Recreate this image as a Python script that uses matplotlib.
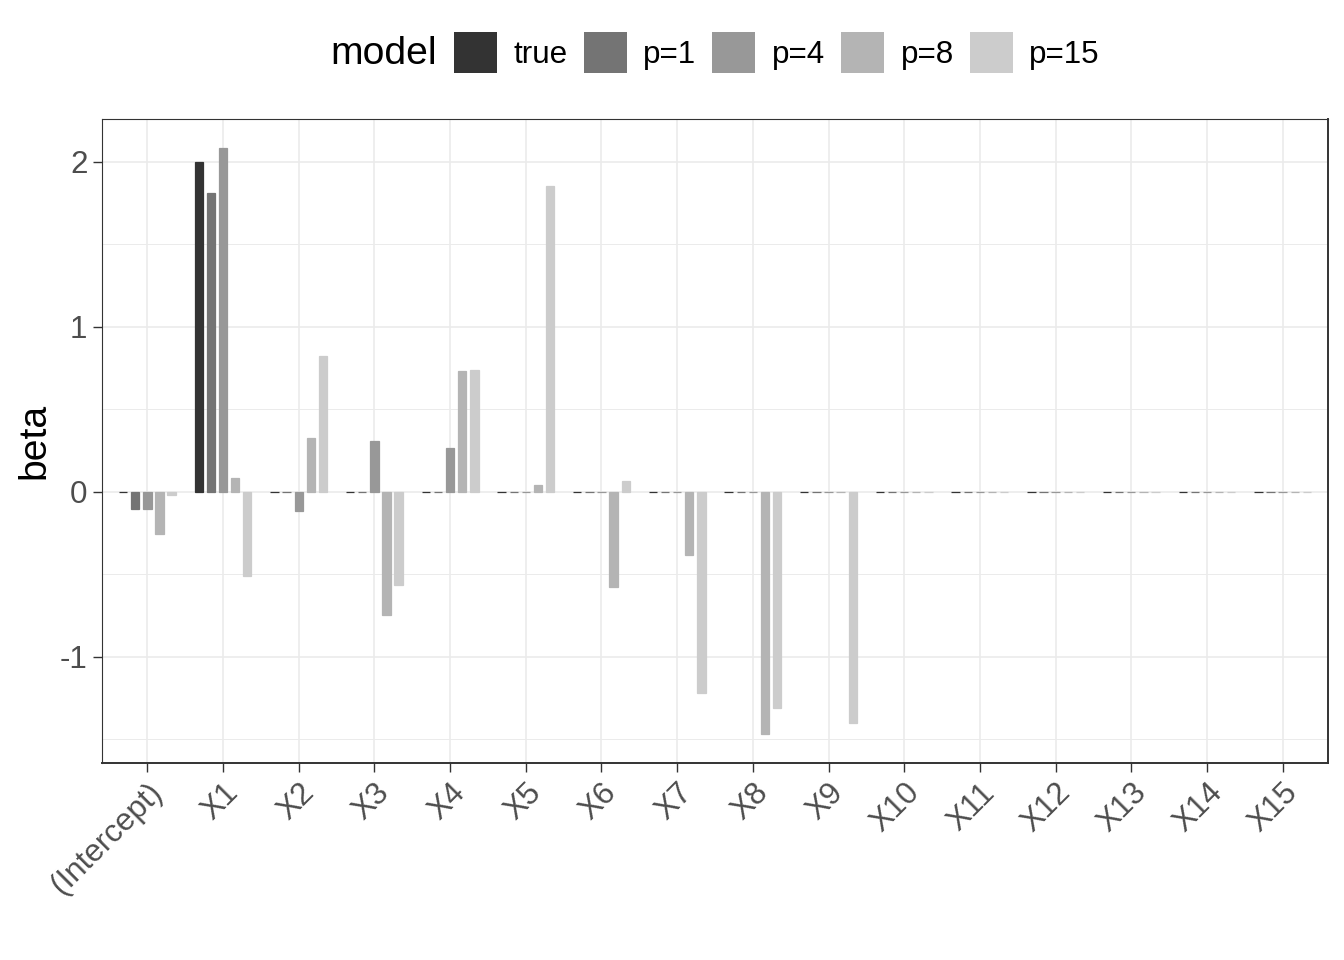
import numpy as np
import matplotlib
matplotlib.use("Agg")
import matplotlib.pyplot as plt
from matplotlib.patches import Patch

plt.rcParams['font.family'] = ['Liberation Sans', 'DejaVu Sans']

terms = ['(Intercept)', 'X1', 'X2', 'X3', 'X4', 'X5', 'X6', 'X7',
         'X8', 'X9', 'X10', 'X11', 'X12', 'X13', 'X14', 'X15']
models = ['true', 'p=1', 'p=4', 'p=8', 'p=15']
colors = ['#333333', '#747474', '#989898', '#B4B4B4', '#CCCCCC']

beta_true = [0, 2.0, 0, 0, 0, 0, 0, 0, 0, 0, 0, 0, 0, 0, 0, 0]
beta_p1 = [-0.105, 1.81, 0, 0, 0, 0, 0, 0, 0, 0, 0, 0, 0, 0, 0, 0]
beta_p4 = [-0.105, 2.085, -0.117, 0.307, 0.262, 0, 0, 0, 0, 0, 0, 0, 0, 0, 0, 0]
beta_p8 = [-0.256, 0.08, 0.323, -0.746, 0.73, 0.04, -0.58, -0.383, -1.467, 0, 0, 0, 0, 0, 0, 0]
beta_p15 = [-0.02, -0.51, 0.82, -0.565, 0.737, 1.854, 0.065, -1.22, -1.311, -1.40, 0, 0, 0, 0, 0, 0]

series = [beta_true, beta_p1, beta_p4, beta_p8, beta_p15]

fig = plt.figure(figsize=(13.44, 9.6), dpi=100)
ax = fig.add_axes([102/1344, 1 - 763/960, (1328 - 102)/1344, (763 - 119)/960])

x = np.arange(len(terms))
dodge = 0.16
for j, (vals, col) in enumerate(zip(series, colors)):
    ax.bar(x + (j - 2) * dodge, vals, width=0.11, color=col,
           edgecolor=col, linewidth=0.9, zorder=3)

ax.set_xlim(-0.6, len(terms) - 1 + 0.6)
ax.set_ylim(-1.645, 2.258)
ax.set_yticks([-1, 0, 1, 2])
ax.set_yticks([-1.5, -0.5, 0.5, 1.5], minor=True)
ax.set_yticklabels(['-1', '0', '1', '2'])
ax.set_xticks(x)
ax.set_xticklabels(terms, rotation=45, ha='right', va='top',
                   rotation_mode='anchor')

ax.grid(which='major', color='#EBEBEB', linewidth=1.2, zorder=0)
ax.grid(which='minor', axis='y', color='#EBEBEB', linewidth=0.7, zorder=0)
ax.set_axisbelow(True)

ax.tick_params(axis='both', which='major', length=6.5, width=1.0,
               color='#333333', labelcolor='#4D4D4D', labelsize=22.6)
ax.tick_params(axis='x', pad=4)
ax.tick_params(axis='y', pad=4)
ax.tick_params(which='minor', length=0)

for side in ['left', 'top']:
    ax.spines[side].set_linewidth(0.8)
    ax.spines[side].set_color('#333333')
for side in ['right', 'bottom']:
    ax.spines[side].set_linewidth(1.4)
    ax.spines[side].set_color('#333333')

ax.set_ylabel('beta', fontsize=28.2, color='black', labelpad=5)

# legend on top, title to the left
handles = [Patch(facecolor=c, edgecolor='none', label=m) for c, m in zip(colors, models)]
fig.legend(handles=handles, loc='center', bbox_to_anchor=(777/1344, 1 - 52.5/960),
           ncol=5, frameon=False, fontsize=22.6, handlelength=1.37,
           handleheight=1.68, handletextpad=0.52, columnspacing=0.52,
           borderpad=0, borderaxespad=0)
fig.text(330/1344, 1 - 54/960, 'model', fontsize=28.2, ha='left', va='center')

fig.savefig('out.png', dpi=100)
